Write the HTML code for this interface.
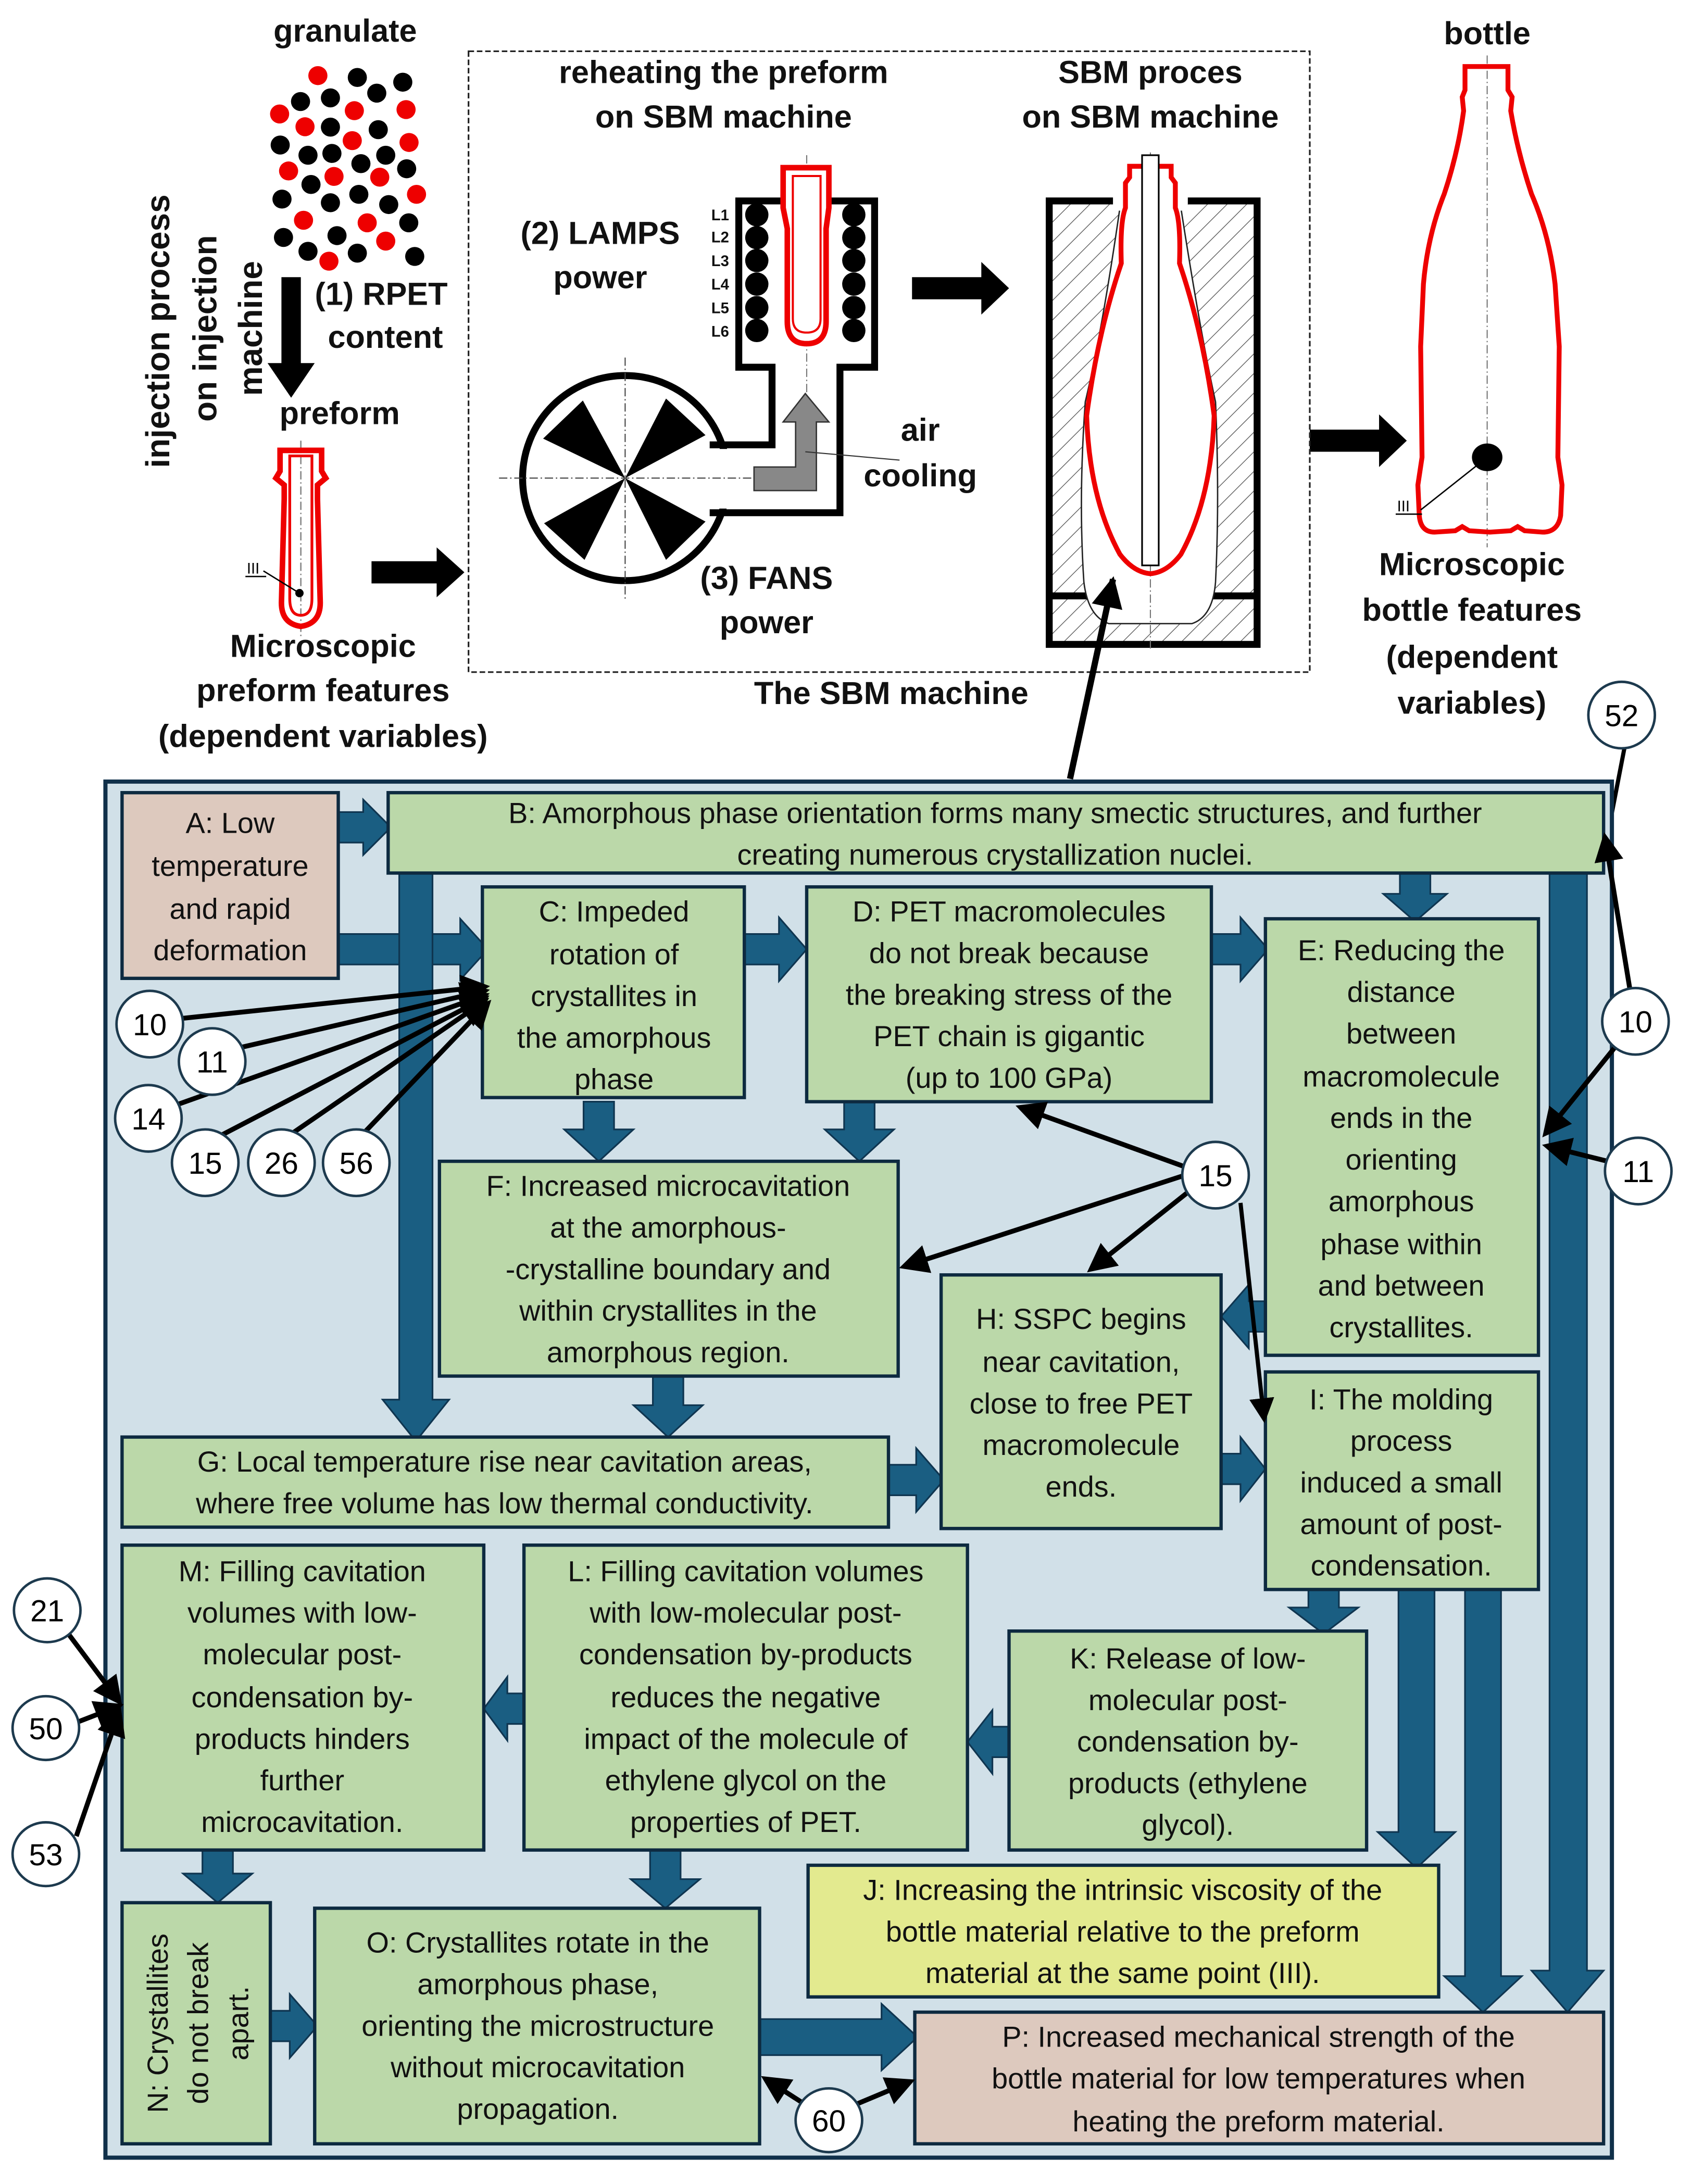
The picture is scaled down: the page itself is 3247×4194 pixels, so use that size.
<!DOCTYPE html>
<html><head><meta charset="utf-8"><style>html,body{margin:0;padding:0;background:#fff}svg{display:block}</style></head><body>
<svg xmlns="http://www.w3.org/2000/svg" width="3247" height="4194" viewBox="0 0 1220 1576" font-family="Liberation Sans, sans-serif">
<defs>
<marker id="ah" markerWidth="6" markerHeight="6" refX="5" refY="3" orient="auto" markerUnits="strokeWidth"><path d="M0,0 L6,3 L0,6 Z" fill="#000"/></marker>
<marker id="ah2" markerWidth="5" markerHeight="5" refX="4.5" refY="2.5" orient="auto" markerUnits="strokeWidth"><path d="M0,0 L5,2.5 L0,5 Z" fill="#000"/></marker>
<pattern id="hatch" width="10" height="10" patternUnits="userSpaceOnUse" patternTransform="rotate(45)"><rect width="10" height="10" fill="#fff"/><line x1="0" y1="0" x2="0" y2="10" stroke="#555" stroke-width="1"/></pattern>
</defs>
<rect width="1220" height="1576" fill="#fff"/>

<g font-weight="bold" fill="#111" text-anchor="middle" font-size="23">
<text x="249" y="30">granulate</text>
<text x="245" y="306">preform</text>
<text x="275" y="220">(1) RPET</text>
<text x="278" y="251">content</text>
<text x="233" y="474">Microscopic</text>
<text x="233" y="506">preform features</text>
<text x="233" y="539">(dependent variables)</text>
<text x="522" y="60">reheating the preform</text>
<text x="522" y="92">on SBM machine</text>
<text x="830" y="60">SBM proces</text>
<text x="830" y="92">on SBM machine</text>
<text x="433" y="176">(2) LAMPS</text>
<text x="433" y="208">power</text>
<text x="664" y="318">air</text>
<text x="664" y="351">cooling</text>
<text x="553" y="425">(3) FANS</text>
<text x="553" y="457">power</text>
<text x="643" y="508">The SBM machine</text>
<text x="1073" y="32">bottle</text>
<text x="1062" y="415">Microscopic</text>
<text x="1062" y="448">bottle features</text>
<text x="1062" y="482">(dependent</text>
<text x="1062" y="515">variables)</text>
</g>
<g font-weight="bold" fill="#111" text-anchor="middle" font-size="24">
<text transform="translate(122,239) rotate(-90)">injection process</text>
<text transform="translate(156,237) rotate(-90)">on injection</text>
<text transform="translate(189,237) rotate(-90)">machine</text>
</g>

<g transform="scale(0.2157,0.2636)">
<g fill="#e00">
<ellipse cx="1063" cy="207" rx="32" ry="26"/><ellipse cx="935" cy="312" rx="32" ry="26"/><ellipse cx="1185" cy="303" rx="32" ry="26"/><ellipse cx="1358" cy="300" rx="32" ry="26"/><ellipse cx="1020" cy="347" rx="32" ry="26"/><ellipse cx="1178" cy="385" rx="32" ry="26"/><ellipse cx="1368" cy="390" rx="32" ry="26"/><ellipse cx="965" cy="468" rx="32" ry="26"/><ellipse cx="1117" cy="483" rx="32" ry="26"/><ellipse cx="1270" cy="485" rx="32" ry="26"/><ellipse cx="1393" cy="532" rx="32" ry="26"/><ellipse cx="1015" cy="603" rx="32" ry="26"/><ellipse cx="1228" cy="610" rx="32" ry="26"/><ellipse cx="1290" cy="660" rx="32" ry="26"/><ellipse cx="1100" cy="715" rx="32" ry="26"/>
</g>
<g fill="#000">
<ellipse cx="1195" cy="212" rx="32" ry="26"/><ellipse cx="1347" cy="225" rx="32" ry="26"/><ellipse cx="1005" cy="278" rx="32" ry="26"/><ellipse cx="1105" cy="268" rx="32" ry="26"/><ellipse cx="1260" cy="255" rx="32" ry="26"/><ellipse cx="1105" cy="348" rx="32" ry="26"/><ellipse cx="1265" cy="355" rx="32" ry="26"/><ellipse cx="937" cy="397" rx="32" ry="26"/><ellipse cx="1030" cy="425" rx="32" ry="26"/><ellipse cx="1110" cy="420" rx="32" ry="26"/><ellipse cx="1290" cy="425" rx="32" ry="26"/><ellipse cx="1207" cy="448" rx="32" ry="26"/><ellipse cx="1360" cy="462" rx="32" ry="26"/><ellipse cx="1040" cy="505" rx="32" ry="26"/><ellipse cx="943" cy="545" rx="32" ry="26"/><ellipse cx="1105" cy="555" rx="32" ry="26"/><ellipse cx="1200" cy="532" rx="32" ry="26"/><ellipse cx="1300" cy="560" rx="32" ry="26"/><ellipse cx="1367" cy="610" rx="32" ry="26"/><ellipse cx="948" cy="650" rx="32" ry="26"/><ellipse cx="1127" cy="645" rx="32" ry="26"/><ellipse cx="1030" cy="688" rx="32" ry="26"/><ellipse cx="1195" cy="693" rx="32" ry="26"/><ellipse cx="1387" cy="702" rx="32" ry="26"/>
</g>
</g>
<polygon points="203,200 217,200 217,262 227,262 210,287 193,262 203,262" fill="#000"/>

<line x1="217" y1="318" x2="217" y2="460" stroke="#888" stroke-width="1" stroke-dasharray="6,2,1,2"/>
<path d="M202,325 L232,325 L232,340 L235,345 L229,350 L229,360 L231,435 Q231,450 217,452 Q203,450 203,435 L205,360 L205,350 L199,345 L202,340 Z" fill="none" stroke="#e00" stroke-width="4"/>
<path d="M209,329 L225,329 L225,360 L225,432 Q225,444 217,444 Q209,444 209,432 L209,360 Z" fill="none" stroke="#e00" stroke-width="2"/>
<circle cx="216" cy="428" r="3" fill="#000"/>
<line x1="216" y1="428" x2="190" y2="412" stroke="#000" stroke-width="1"/>
<text x="178" y="414" font-size="11" fill="#000">III</text>
<line x1="177" y1="416" x2="192" y2="416" stroke="#000" stroke-width="1"/>

<polygon points="268,405 315,405 315,395 335,413 315,431 315,421 268,421" fill="#000"/>
<polygon points="658,200 708,200 708,189 728,208 708,227 708,216 658,216" fill="#000"/>
<polygon points="945,310 995,310 995,299 1015,318 995,337 995,326 945,326" fill="#000"/>

<rect x="338" y="37" width="607" height="448" fill="none" stroke="#222" stroke-width="1.2" stroke-dasharray="4,2"/>

<path d="M520,321 L557,321 L557,265 L533,265 L533,145 L631,145 L631,265 L606,265 L606,370 L520,370" fill="none" stroke="#000" stroke-width="5" stroke-linejoin="miter"/>
<line x1="582" y1="112" x2="582" y2="290" stroke="#777" stroke-width="0.8" stroke-dasharray="6,2,1,2"/>
<g fill="#000">
<circle cx="546" cy="155" r="8.4"/><circle cx="546" cy="171.5" r="8.4"/><circle cx="546" cy="188" r="8.4"/><circle cx="546" cy="205" r="8.4"/><circle cx="546" cy="222" r="8.4"/><circle cx="546" cy="238.5" r="8.4"/>
<circle cx="616" cy="155" r="8.4"/><circle cx="616" cy="171.5" r="8.4"/><circle cx="616" cy="188" r="8.4"/><circle cx="616" cy="205" r="8.4"/><circle cx="616" cy="222" r="8.4"/><circle cx="616" cy="238.5" r="8.4"/>
</g>
<g font-size="11" font-weight="bold" text-anchor="end" fill="#111">
<text x="526" y="159">L1</text><text x="526" y="175">L2</text><text x="526" y="192">L3</text><text x="526" y="209">L4</text><text x="526" y="226">L5</text><text x="526" y="243">L6</text>
</g>
<path d="M565,121 L598,121 L598,150 L596,165 L596,232 Q596,248 582,248 Q568,248 568,232 L568,165 L565,150 Z" fill="#fff" stroke="#e00" stroke-width="4"/>
<path d="M572,127 L592,127 L592,230 Q592,240 582,240 Q572,240 572,230 Z" fill="none" stroke="#e00" stroke-width="1.5"/>

<circle cx="451" cy="345" r="74" fill="#fff" stroke="#000" stroke-width="5"/>
<rect x="512" y="324" width="20" height="43" fill="#fff"/>
<line x1="520" y1="321" x2="512" y2="321" stroke="#000" stroke-width="5"/>
<line x1="520" y1="370" x2="512" y2="370" stroke="#000" stroke-width="5"/>
<g fill="#000">
<polygon points="451,345 391.8,316.5 420.5,289"/><polygon points="451,345 480.5,287.6 509,314"/><polygon points="451,345 392.5,377.6 421.7,404"/><polygon points="451,345 480.5,404 509,376.4"/>
</g>
<line x1="360" y1="345" x2="545" y2="345" stroke="#444" stroke-width="0.8" stroke-dasharray="6,2,1,2"/>
<line x1="451" y1="258" x2="451" y2="432" stroke="#444" stroke-width="0.8" stroke-dasharray="6,2,1,2"/>
<path d="M581,284 L598,304.5 L589,304.5 L589,354 L544,354 L544,337 L574,337 L574,304.5 L565,304.5 Z" fill="#888" stroke="#333" stroke-width="1"/>
<line x1="581" y1="326" x2="649" y2="332" stroke="#333" stroke-width="0.8"/>

<rect x="757" y="145" width="150" height="320" fill="url(#hatch)" stroke="#000" stroke-width="5"/>
<line x1="757" y1="430" x2="907" y2="430" stroke="#000" stroke-width="5"/>
<path d="M808,150 Q795,240 783,290 Q778,360 782,420 Q785,445 800,450 L860,450 Q875,445 877,420 Q880,360 877,290 Q866,240 852,150 Z" fill="#fff" stroke="#222" stroke-width="1"/>
<rect x="803" y="140" width="54" height="12" fill="#fff"/>
<line x1="830" y1="110" x2="830" y2="470" stroke="#777" stroke-width="0.8" stroke-dasharray="6,2,1,2"/>
<path d="M815,120 L845,120 L845,128 L848,132 L848,150 Q852,160 851,190 Q868,240 876,300 Q874,360 852,400 Q842,413 830,414 Q818,413 808,400 Q786,360 784,300 Q792,240 809,190 Q808,160 812,150 L812,132 L815,128 Z" fill="none" stroke="#e00" stroke-width="3.5"/>
<rect x="824" y="112" width="12" height="296" fill="#fff" stroke="#000" stroke-width="1.2"/>
<line x1="772" y1="562" x2="803" y2="418" stroke="#000" stroke-width="4.5" marker-end="url(#ah2)"/>

<line x1="1073" y1="40" x2="1073" y2="395" stroke="#777" stroke-width="0.8" stroke-dasharray="6,2,1,2"/>
<path d="M1057,48 L1088,48 L1088,65 L1091,70 L1090,80 Q1095,110 1105,140 Q1118,170 1122,205 L1125,250 L1124,330 L1127,350 L1126,372 Q1124,384 1113,384 L1100,383 L1095,380 L1090,383 L1075,384 L1060,383 L1055,380 L1050,383 L1035,384 Q1025,384 1024,372 L1023,350 L1026,330 L1025,250 L1027,205 Q1030,170 1042,140 Q1052,110 1056,80 L1055,70 L1057,65 Z" fill="none" stroke="#e00" stroke-width="3.5"/>
<ellipse cx="1073" cy="330" rx="11" ry="10" fill="#000"/>
<line x1="1073" y1="330" x2="1025" y2="368" stroke="#000" stroke-width="1"/>
<text x="1008" y="369" font-size="11" fill="#000">III</text>
<line x1="1007" y1="371" x2="1026" y2="371" stroke="#000" stroke-width="1"/>

<line x1="1172" y1="540" x2="1160" y2="602" stroke="#000" stroke-width="3"/>
<ellipse cx="1170" cy="516" rx="24" ry="24" fill="#fff" stroke="#1d3a4e" stroke-width="1.8"/>
<text x="1170" y="524" font-size="22" text-anchor="middle" fill="#000">52</text>

<rect x="76" y="564" width="1087" height="993" fill="#d1e0e8" stroke="#10304a" stroke-width="3"/>

<g fill="#1a5e82" stroke="#0f3550" stroke-width="1.2">
<polygon points="244,586 262,586 262,577 282,597 262,617 262,608 244,608"/>
<polygon points="244,674 332,674 332,663 352,685 332,707 332,696 244,696"/>
<polygon points="288,630 312,630 312,1010 324,1010 300,1040 276,1010 288,1010"/>
<polygon points="1010,630 1032,630 1032,645 1044,645 1021,665 998,645 1010,645"/>
<polygon points="1118,630 1145,630 1145,1422 1157,1422 1131,1452 1105,1422 1118,1422"/>
<polygon points="537,674 562,674 562,662 582,685 562,708 562,696 537,696"/>
<polygon points="874,674 895,674 895,662 915,685 895,708 895,696 874,696"/>
<polygon points="421,795 443,795 443,815 457,815 432,838 407,815 421,815"/>
<polygon points="609,795 631,795 631,815 645,815 620,838 595,815 609,815"/>
<polygon points="471,993 493,993 493,1014 507,1014 482,1037 457,1014 471,1014"/>
<polygon points="913,939 901,939 901,927 881,950 901,973 901,961 913,961"/>
<polygon points="641,1057 661,1057 661,1045 681,1068 661,1091 661,1079 641,1079"/>
<polygon points="881,1049 895,1049 895,1037 913,1060 895,1083 895,1071 881,1071"/>
<polygon points="944,1147 966,1147 966,1160 980,1160 955,1179 930,1160 944,1160"/>
<polygon points="1009,1147 1035,1147 1035,1322 1050,1322 1022,1348 994,1322 1009,1322"/>
<polygon points="1057,1147 1083,1147 1083,1426 1098,1426 1070,1452 1042,1426 1057,1426"/>
<polygon points="728,1246 716,1246 716,1234 698,1257 716,1280 716,1268 728,1268"/>
<polygon points="378,1222 366,1222 366,1210 349,1233 366,1256 366,1244 378,1244"/>
<polygon points="146,1335 168,1335 168,1352 182,1352 157,1373 132,1352 146,1352"/>
<polygon points="469,1335 491,1335 491,1356 505,1356 480,1377 455,1356 469,1356"/>
<polygon points="195,1451 209,1451 209,1439 229,1462 209,1485 209,1473 195,1473"/>
<polygon points="548,1457 636,1457 636,1446 662,1470 636,1494 636,1483 548,1483"/>
</g>

<g stroke="#0d2a40" stroke-width="2.4">
<rect x="88" y="572" width="156" height="134" fill="#ddc9be"/>
<rect x="280" y="572" width="877" height="58" fill="#bbd8a9"/>
<rect x="348" y="640" width="189" height="152" fill="#bbd8a9"/>
<rect x="582" y="640" width="292" height="155" fill="#bbd8a9"/>
<rect x="913" y="663" width="197" height="315" fill="#bbd8a9"/>
<rect x="317" y="838" width="331" height="155" fill="#bbd8a9"/>
<rect x="88" y="1037" width="553" height="65" fill="#bbd8a9"/>
<rect x="679" y="920" width="202" height="183" fill="#bbd8a9"/>
<rect x="913" y="990" width="197" height="157" fill="#bbd8a9"/>
<rect x="728" y="1177" width="258" height="158" fill="#bbd8a9"/>
<rect x="378" y="1115" width="320" height="220" fill="#bbd8a9"/>
<rect x="88" y="1115" width="261" height="220" fill="#bbd8a9"/>
<rect x="583" y="1346" width="455" height="95" fill="#e3ea8f"/>
<rect x="88" y="1373" width="107" height="174" fill="#bbd8a9"/>
<rect x="227" y="1377" width="321" height="170" fill="#bbd8a9"/>
<rect x="660" y="1452" width="497" height="95" fill="#ddc9be"/>
</g>

<g font-size="21" fill="#111" text-anchor="middle">
<text x="166" y="601">A: Low</text><text x="166" y="632">temperature</text><text x="166" y="663">and rapid</text><text x="166" y="693">deformation</text>
<text x="718" y="594">B: Amorphous phase orientation forms many smectic structures, and further</text>
<text x="718" y="624">creating numerous crystallization nuclei.</text>
<text x="443" y="665">C: Impeded</text><text x="443" y="696">rotation of</text><text x="443" y="726">crystallites in</text><text x="443" y="756">the amorphous</text><text x="443" y="786">phase</text>
<text x="728" y="665">D: PET macromolecules</text><text x="728" y="695">do not break because</text><text x="728" y="725">the breaking stress of the</text><text x="728" y="755">PET chain is gigantic</text><text x="728" y="785">(up to 100 GPa)</text>
<text x="1011" y="693">E: Reducing the</text><text x="1011" y="723">distance</text><text x="1011" y="753">between</text><text x="1011" y="784">macromolecule</text><text x="1011" y="814">ends in the</text><text x="1011" y="844">orienting</text><text x="1011" y="874">amorphous</text><text x="1011" y="905">phase within</text><text x="1011" y="935">and between</text><text x="1011" y="965">crystallites.</text>
<text x="482" y="863">F: Increased microcavitation</text><text x="482" y="893">at the amorphous-</text><text x="482" y="923">-crystalline boundary and</text><text x="482" y="953">within crystallites in the</text><text x="482" y="983">amorphous region.</text>
<text x="364" y="1062">G: Local temperature rise near cavitation areas,</text><text x="364" y="1092">where free volume has low thermal conductivity.</text>
<text x="780" y="959">H: SSPC begins</text><text x="780" y="990">near cavitation,</text><text x="780" y="1020">close to free PET</text><text x="780" y="1050">macromolecule</text><text x="780" y="1080">ends.</text>
<text x="1011" y="1017">I: The molding</text><text x="1011" y="1047">process</text><text x="1011" y="1077">induced a small</text><text x="1011" y="1107">amount of post-</text><text x="1011" y="1137">condensation.</text>
<text x="857" y="1204">K: Release of low-</text><text x="857" y="1234">molecular post-</text><text x="857" y="1264">condensation by-</text><text x="857" y="1294">products (ethylene</text><text x="857" y="1324">glycol).</text>
<text x="538" y="1141">L: Filling cavitation volumes</text><text x="538" y="1171">with low-molecular post-</text><text x="538" y="1201">condensation by-products</text><text x="538" y="1232">reduces the negative</text><text x="538" y="1262">impact of the molecule of</text><text x="538" y="1292">ethylene glycol on the</text><text x="538" y="1322">properties of PET.</text>
<text x="218" y="1141">M: Filling cavitation</text><text x="218" y="1171">volumes with low-</text><text x="218" y="1201">molecular post-</text><text x="218" y="1232">condensation by-</text><text x="218" y="1262">products hinders</text><text x="218" y="1292">further</text><text x="218" y="1322">microcavitation.</text>
<text x="810" y="1371">J: Increasing the intrinsic viscosity of the</text><text x="810" y="1401">bottle material relative to the preform</text><text x="810" y="1431">material at the same point (III).</text>
<text transform="translate(121,1460) rotate(-90)">N: Crystallites</text><text transform="translate(150,1460) rotate(-90)">do not break</text><text transform="translate(179,1460) rotate(-90)">apart.</text>
<text x="388" y="1409">O: Crystallites rotate in the</text><text x="388" y="1439">amorphous phase,</text><text x="388" y="1469">orienting the microstructure</text><text x="388" y="1499">without microcavitation</text><text x="388" y="1529">propagation.</text>
<text x="908" y="1477">P: Increased mechanical strength of the</text><text x="908" y="1507">bottle material for low temperatures when</text><text x="908" y="1538">heating the preform material.</text>
</g>

<g stroke="#000" stroke-width="3.5" fill="none">
<line x1="130" y1="735" x2="350" y2="712" marker-end="url(#ah)"/>
<line x1="173" y1="756" x2="350" y2="715" marker-end="url(#ah)"/>
<line x1="128" y1="797" x2="350" y2="718" marker-end="url(#ah)"/>
<line x1="160" y1="819" x2="350" y2="720" marker-end="url(#ah)"/>
<line x1="212" y1="817" x2="350" y2="722" marker-end="url(#ah)"/>
<line x1="264" y1="816" x2="352" y2="724" marker-end="url(#ah)"/>
<line x1="855" y1="842" x2="736" y2="799" marker-end="url(#ah)"/>
<line x1="855" y1="848" x2="652" y2="914" marker-end="url(#ah)"/>
<line x1="860" y1="858" x2="787" y2="916" marker-end="url(#ah)"/>
<line x1="1176" y1="714" x2="1158" y2="604" marker-end="url(#ah)"/>
<line x1="1165" y1="756" x2="1115" y2="818" marker-end="url(#ah)"/>
<line x1="1160" y1="838" x2="1116" y2="827" marker-end="url(#ah)"/>
<line x1="50" y1="1180" x2="86" y2="1228" marker-end="url(#ah)"/>
<line x1="55" y1="1243" x2="86" y2="1231" marker-end="url(#ah)"/>
<line x1="55" y1="1325" x2="86" y2="1235" marker-end="url(#ah)"/>
<line x1="583" y1="1520" x2="552" y2="1500" marker-end="url(#ah)"/>
<line x1="614" y1="1520" x2="657" y2="1502" marker-end="url(#ah)"/>
</g>
<line x1="895" y1="868" x2="912" y2="1024" stroke="#000" stroke-width="3" marker-end="url(#ah)"/>

<g fill="#fff" stroke="#1d3a4e" stroke-width="1.8">
<ellipse cx="108" cy="739" rx="24" ry="24"/><ellipse cx="153" cy="766" rx="24" ry="24"/><ellipse cx="107" cy="807" rx="24" ry="24"/><ellipse cx="148" cy="839" rx="24" ry="24"/><ellipse cx="203" cy="839" rx="24" ry="24"/><ellipse cx="257" cy="839" rx="24" ry="24"/>
<ellipse cx="877" cy="848" rx="24" ry="24"/><ellipse cx="1180" cy="737" rx="24" ry="24"/><ellipse cx="1182" cy="845" rx="24" ry="24"/>
<ellipse cx="34" cy="1162" rx="24" ry="23"/><ellipse cx="33" cy="1247" rx="24" ry="23"/><ellipse cx="33" cy="1338" rx="24" ry="23"/><ellipse cx="598" cy="1530" rx="24" ry="23"/>
</g>
<g font-size="22" fill="#000" text-anchor="middle">
<text x="108" y="747">10</text><text x="153" y="774">11</text><text x="107" y="815">14</text><text x="148" y="847">15</text><text x="203" y="847">26</text><text x="257" y="847">56</text>
<text x="877" y="856">15</text><text x="1180" y="745">10</text><text x="1182" y="853">11</text>
<text x="34" y="1170">21</text><text x="33" y="1255">50</text><text x="33" y="1346">53</text><text x="598" y="1538">60</text>
</g>
</svg>
</body></html>
